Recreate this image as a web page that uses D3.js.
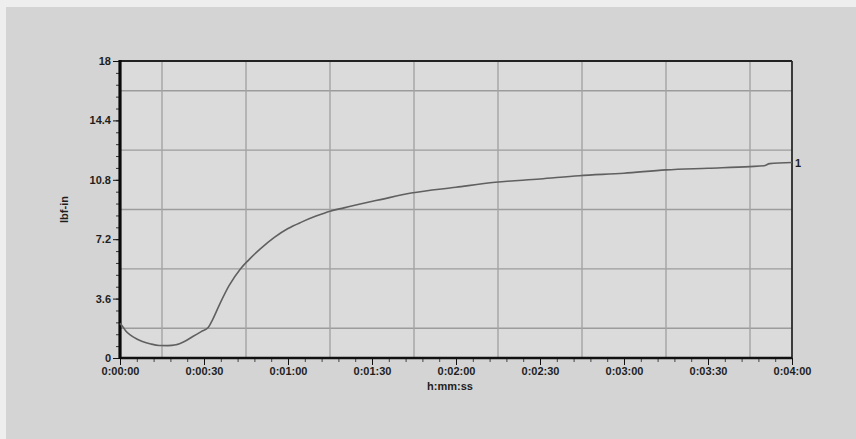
<!DOCTYPE html>
<html>
<head>
<meta charset="utf-8">
<script src="https://cdnjs.cloudflare.com/ajax/libs/d3/7.8.5/d3.min.js"></script>
<style>
  html, body { margin: 0; padding: 0; background: #d4d4d4; }
  svg { display: block; }
  .axis text { font-family: "Liberation Sans", Arial, sans-serif; font-size: 11px; font-weight: bold; fill: #1e1e1e; }
</style>
</head>
<body>
<div id="chart"></div>
<script>
// torque trace (seconds, lbf-in)
var timeSec = [0, 1, 2, 4, 6, 8, 11, 14, 17, 20, 23, 26, 29, 31.5, 33, 35.7, 39, 43, 46, 50, 55, 60, 65, 70, 75, 80, 85, 93, 104, 120, 134, 150, 164, 180, 195, 210, 225, 230, 232, 240];
var torque = [2.1, 1.9, 1.65, 1.35, 1.15, 1.0, 0.85, 0.76, 0.75, 0.8, 1.0, 1.3, 1.6, 1.85, 2.3, 3.3, 4.4, 5.4, 5.95, 6.6, 7.3, 7.85, 8.25, 8.6, 8.9, 9.1, 9.3, 9.6, 10.0, 10.35, 10.65, 10.85, 11.05, 11.2, 11.4, 11.5, 11.6, 11.65, 11.78, 11.85];

var yTicks = [0, 3.6, 7.2, 10.8, 14.4, 18];
var yGrid = [1.8, 5.4, 9, 12.6, 16.2];
var xTicks = [0, 30, 60, 90, 120, 150, 180, 210, 240];
var xGrid = [15, 45, 75, 105, 135, 165, 195, 225];
var seriesLabel = "1";

(function() {
  var W = 856, H = 439;
  var margin = { top: 61, left: 120, right: 64, bottom: 81 },
    width = W - margin.left - margin.right,
    height = H - margin.top - margin.bottom;

  var root = d3.select("#chart").append("svg")
    .attr("width", W)
    .attr("height", H);

  // photo background + light paper edge
  root.append("rect").attr("width", W).attr("height", H).attr("fill", "#d4d4d4");
  root.append("rect").attr("width", W).attr("height", 7).attr("fill", "#eeeeee");
  root.append("rect").attr("width", 6).attr("height", H).attr("fill", "#eeeeee");

  var svg = root.append("g")
    .attr("transform", "translate(" + margin.left + "," + margin.top + ")");

  var xPositionScale = d3.scaleLinear().domain([0, 240]).range([0, width]);
  var yPositionScale = d3.scaleLinear().domain([0, 18]).range([height, 0]);

  svg.append("rect")
    .attr("width", width).attr("height", height)
    .attr("fill", "#dbdbdb");

  // grid
  svg.selectAll(".ygrid").data(yGrid).enter().append("line")
    .attr("x1", 0).attr("x2", width)
    .attr("y1", function(d) { return yPositionScale(d) })
    .attr("y2", function(d) { return yPositionScale(d) })
    .attr("stroke", "#9c9c9c").attr("stroke-width", 1.4);

  svg.selectAll(".xgrid").data(xGrid).enter().append("line")
    .attr("y1", 0).attr("y2", height)
    .attr("x1", function(d) { return xPositionScale(d) })
    .attr("x2", function(d) { return xPositionScale(d) })
    .attr("stroke", "#a4a4a4").attr("stroke-width", 1.4);

  // minor ticks
  var yMinor = d3.range(0, 18.001, 0.72);
  var xMinor = d3.range(0, 240.001, 6);
  svg.append("g").call(d3.axisLeft(yPositionScale).tickValues(yMinor).tickSize(4).tickFormat(""))
    .call(function(g) { g.select(".domain").remove() })
    .selectAll("line").attr("stroke", "#333");
  svg.append("g").attr("transform", "translate(0," + height + ")")
    .call(d3.axisBottom(xPositionScale).tickValues(xMinor).tickSize(4).tickFormat(""))
    .call(function(g) { g.select(".domain").remove() })
    .selectAll("line").attr("stroke", "#444");

  // axes
  var fmt = function(s) {
    var h = Math.floor(s / 3600), m = Math.floor((s % 3600) / 60), sec = s % 60;
    return h + ":" + (m < 10 ? "0" : "") + m + ":" + (sec < 10 ? "0" : "") + sec;
  };

  var yAxis = d3.axisLeft(yPositionScale).tickValues(yTicks).tickSize(7).tickPadding(2)
    .tickFormat(function(d) { return d });
  svg.append("g").attr("class", "axis y-axis").call(yAxis)
    .call(function(g) { g.select(".domain").remove() })
    .selectAll("line").attr("stroke", "#111");

  var xAxis = d3.axisBottom(xPositionScale).tickValues(xTicks).tickSize(7).tickPadding(2)
    .tickFormat(fmt);
  svg.append("g").attr("class", "axis x-axis")
    .attr("transform", "translate(0," + height + ")")
    .call(xAxis)
    .call(function(g) { g.select(".domain").remove() })
    .selectAll("line").attr("stroke", "#111");

  // frame
  svg.append("line").attr("x1", 0).attr("x2", width).attr("y1", 0).attr("y2", 0)
    .attr("stroke", "#222").attr("stroke-width", 1.8);
  svg.append("line").attr("x1", width).attr("x2", width).attr("y1", 0).attr("y2", height)
    .attr("stroke", "#2a2a2a").attr("stroke-width", 1.8);
  svg.append("line").attr("x1", 0).attr("x2", width).attr("y1", height).attr("y2", height)
    .attr("stroke", "#111").attr("stroke-width", 2.4);
  svg.append("line").attr("x1", 0).attr("x2", 0).attr("y1", -1).attr("y2", height + 1)
    .attr("stroke", "#0a0a0a").attr("stroke-width", 3.2);

  // curve
  var points = timeSec.map(function(t, i) { return [t, torque[i]] });
  var line = d3.line()
    .x(function(d) { return xPositionScale(d[0]) })
    .y(function(d) { return yPositionScale(d[1]) })
    .curve(d3.curveMonotoneX);
  svg.append("path").datum(points)
    .attr("d", line)
    .attr("fill", "none")
    .attr("stroke", "#606060")
    .attr("stroke-width", 1.6);

  var last = points[points.length - 1];
  svg.append("text").attr("class", "axis")
    .attr("x", xPositionScale(last[0]) + 3)
    .attr("y", yPositionScale(last[1]) + 5)
    .text(seriesLabel)
    .style("font-family", "Liberation Sans, Arial, sans-serif")
    .style("font-size", "11px").style("font-weight", "bold").style("fill", "#1e1e1e");

  // titles
  var titles = svg.append("g").attr("class", "axis");
  titles.append("text")
    .attr("x", width / 2 - 6).attr("y", height + 32)
    .attr("text-anchor", "middle")
    .text("h:mm:ss");
  titles.append("text")
    .attr("transform", "translate(" + (-52) + "," + (height / 2) + ") rotate(-90)")
    .attr("text-anchor", "middle")
    .text("lbf-in");
})();
</script>
</body>
</html>
